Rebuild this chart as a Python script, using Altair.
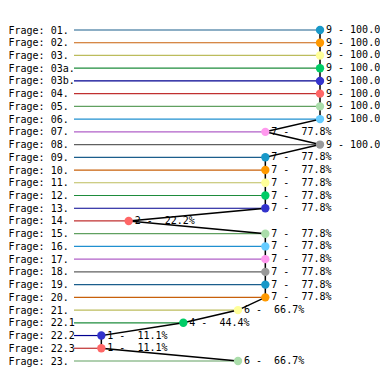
import altair as alt
import pandas as pd

categories = ["01.", "02.", "03.", "03a.", "03b.", "04.", "05.", "06.", "07.", "08.",
              "09.", "10.", "11.", "12.", "13.", "14.", "15.", "16.", "17.", "18.",
              "19.", "20.", "21.", "22.1.", "22.2.", "22.3.", "23."]
counts = [9, 9, 9, 9, 9, 9, 9, 9, 7, 9,
          7, 7, 7, 7, 7, 2, 7, 7, 7, 7,
          7, 7, 6, 4, 1, 1, 6]
total = 9

rule_palette = ["#1b5e8c", "#c8600a", "#bcbc5c", "#1e8c3c", "#000090",
                "#c03030", "#60a060", "#2090d0", "#b060c8", "#606060"]
point_palette = ["#1898c8", "#ff9900", "#ffff99", "#00cc66", "#3333cc",
                 "#ff6666", "#aaddaa", "#66ccff", "#ff99ee", "#999999"]

labels = ["Frage: " + c for c in categories]
rule_colors = [rule_palette[i % 10] for i in range(len(categories))]
point_colors = [point_palette[i % 10] for i in range(len(categories))]
texts = [f"{n} - {100 * n / total:5.1f}%".replace(" ", "\u00a0") for n in counts]

df = pd.DataFrame({"cat": labels, "n": counts, "idx": list(range(len(labels))), "txt": texts})

y = alt.Y("cat:N", sort=labels, title=None,
          scale=alt.Scale(type="point", padding=0),
          axis=alt.Axis(labelAlign="left", labelPadding=66, ticks=False, tickSize=0,
                        domain=False, grid=False, labelBaseline="middle",
                        labelFont="DejaVu Sans Mono", labelFontSize=10, labelColor="black",
                        labelExpr="substring(datum.label, 0, 11)"))
x = alt.X("n:Q", title=None, scale=alt.Scale(domain=[0, 9], nice=False, zero=True), axis=None)

base = alt.Chart(df)

rules = base.mark_rule(strokeWidth=1.2).encode(
    y=y, x=x, x2=alt.datum(0),
    color=alt.Color("cat:N", scale=alt.Scale(domain=labels, range=rule_colors), legend=None),
)
text = base.mark_text(align="left", baseline="middle", dx=6, font="DejaVu Sans Mono",
                      fontSize=10, color="black").encode(y=y, x=x, text="txt:N")
line = base.mark_line(color="black", strokeWidth=1.5).encode(y=y, x=x, order=alt.Order("idx:Q"))
points = base.mark_circle(size=70, opacity=1).encode(
    y=y, x=x,
    color=alt.Color("cat:N", scale=alt.Scale(domain=labels, range=point_colors), legend=None),
)

chart = alt.layer(rules, text, line, points).resolve_scale(color="independent").properties(
    width=246, height=331,
    autosize=alt.AutoSizeParams(type="none"),
    padding={"left": 66, "top": 22, "right": 60, "bottom": 10},
).configure_view(stroke=None)

chart.save("out.html", embed_options={"renderer": "svg", "actions": False})
